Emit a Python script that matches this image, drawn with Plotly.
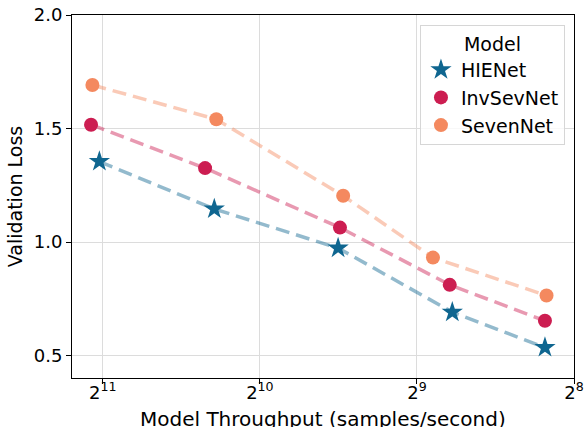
import math
import plotly.graph_objects as go

# Throughput (samples/second) and validation loss per model
hienet_tp = [2079, 1252, 725, 438, 291]
hienet_loss = [1.355, 1.146, 0.974, 0.692, 0.536]

invsevnet_tp = [2157, 1304, 719, 443, 291]
invsevnet_loss = [1.517, 1.326, 1.064, 0.812, 0.654]

sevennet_tp = [2144, 1241, 709, 477, 289]
sevennet_loss = [1.692, 1.541, 1.204, 0.932, 0.765]

x_tick_vals = [2048, 1024, 512, 256]
x_tick_text = ["2<sup>11</sup>", "2<sup>10</sup>", "2<sup>9</sup>", "2<sup>8</sup>"]
y_tick_vals = [0.5, 1.0, 1.5, 2.0]

series = [
    ("HIENet", hienet_tp, hienet_loss, "#0f6690", "rgba(15,102,144,0.45)", "star", 16),
    ("InvSevNet", invsevnet_tp, invsevnet_loss, "#cc1d51", "rgba(204,29,81,0.45)", "circle", 14),
    ("SevenNet", sevennet_tp, sevennet_loss, "#f4895f", "rgba(244,137,95,0.45)", "circle", 14),
]

fig = go.Figure()

# dashed connecting lines (no legend entries)
for name, xs, ys, col, lcol, sym, size in series:
    fig.add_trace(go.Scatter(
        x=xs, y=ys, mode="lines",
        line=dict(color=lcol, width=3.5, dash="14px,7px"),
        showlegend=False, hoverinfo="skip",
    ))

# markers on top
for name, xs, ys, col, lcol, sym, size in series:
    fig.add_trace(go.Scatter(
        x=xs, y=ys, mode="markers", name=name,
        marker=dict(color=col, symbol=sym, size=size, line=dict(width=0)),
    ))

font_family = "DejaVu Sans"

fig.update_layout(
    width=584, height=427,
    margin=dict(l=72, r=10, t=15, b=49),
    paper_bgcolor="white", plot_bgcolor="white",
    font=dict(family=font_family, size=18, color="black"),
    legend=dict(
        title=dict(text="Model", side="top center", font=dict(size=19)),
        x=0.982, y=0.972, xanchor="right", yanchor="top",
        bgcolor="rgba(255,255,255,0.8)", bordercolor="#d6d6d6", borderwidth=1,
        font=dict(size=19),
        tracegroupgap=0,
    ),
    # x-axis title placed just under the tick labels
    annotations=[dict(
        text="Model Throughput (samples/second)",
        xref="paper", yref="paper", x=0.5, y=-0.112,
        xanchor="center", yanchor="middle", showarrow=False,
        font=dict(size=20, family=font_family),
    )],
)

fig.update_xaxes(
    type="log", automargin=False,
    range=[math.log10(2 ** 11.196), math.log10(2 ** 8)],
    tickvals=x_tick_vals, ticktext=x_tick_text,
    ticks="outside", ticklen=5, tickwidth=1, tickcolor="black",
    ticklabeloverflow="allow", ticklabelstandoff=-7,
    showgrid=True, gridcolor="#dcdcdc", gridwidth=1,
    showline=True, linecolor="black", linewidth=1, mirror=True,
    tickfont=dict(size=18),
    zeroline=False,
)

fig.update_yaxes(
    range=[0.402, 2.0], automargin=False,
    tickvals=y_tick_vals, tickformat=".1f",
    ticks="outside", ticklen=5, tickwidth=1, tickcolor="black",
    showgrid=True, gridcolor="#dcdcdc", gridwidth=1,
    showline=True, linecolor="black", linewidth=1, mirror=True,
    title=dict(text="Validation Loss", font=dict(size=19), standoff=6),
    tickfont=dict(size=18),
    zeroline=False,
)

fig.write_html("out.html")
